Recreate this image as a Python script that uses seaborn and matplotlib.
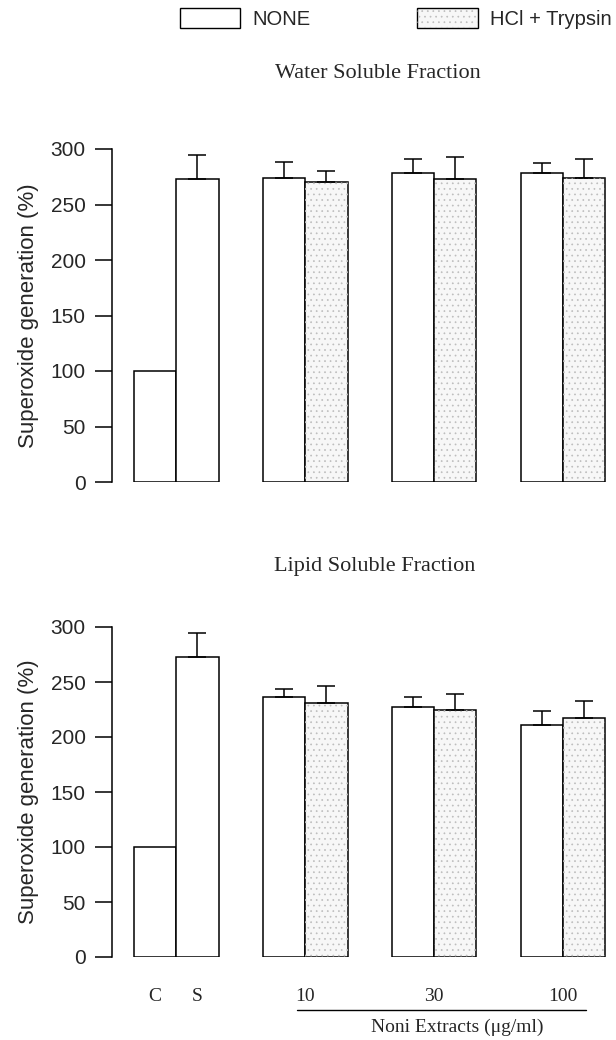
import numpy as np
import pandas as pd
import matplotlib
matplotlib.use("Agg")
import matplotlib.pyplot as plt
import matplotlib.transforms as mtransforms
from matplotlib.patches import Patch, Rectangle
from matplotlib.legend_handler import HandlerTuple
import seaborn as sns

# categories
controls = ["C", "S"]
doses = ["10", "30", "100"]
treatments = ["NONE", "HCl + Trypsin"]

# water soluble fraction (%)
water_ctrl = [100, 273]
water_ctrl_err = [0, 22]
water_none = [274, 278, 278]
water_none_err = [14, 13, 9]
water_hcl = [270, 273, 274]
water_hcl_err = [10, 20, 17]

# lipid soluble fraction (%)
lipid_ctrl = [100, 273]
lipid_ctrl_err = [0, 22]
lipid_none = [236, 227, 211]
lipid_none_err = [8, 9, 13]
lipid_hcl = [231, 225, 217]
lipid_hcl_err = [15, 14, 16]

yticks = [0, 50, 100, 150, 200, 250, 300]

sns.set_style("ticks")
plt.rcParams["font.family"] = ["Liberation Sans", "DejaVu Sans"]
plt.rcParams["hatch.linewidth"] = 0.5

W, H = 616, 1040
fig = plt.figure(figsize=(W / 100, H / 100), dpi=100)

# bar positions (bar width = 1)
step = 3.05
ctrl_pos = [0.0, 1.0]
none_pos = [step * (i + 1) for i in range(len(doses))]
hcl_pos = [p + 1.0 for p in none_pos]

fill = {"NONE": "white", "HCl + Trypsin": "#f7f7f7"}
stipple_col = "#bdbdbd"
stipple = "..."


def build_frame(ctrl, none, hcl):
    rows = []
    for p, v in zip(ctrl_pos, ctrl):
        rows.append({"pos": p, "value": v, "treatment": "NONE"})
    for p, v in zip(none_pos, none):
        rows.append({"pos": p, "value": v, "treatment": "NONE"})
    for p, v in zip(hcl_pos, hcl):
        rows.append({"pos": p, "value": v, "treatment": "HCl + Trypsin"})
    return pd.DataFrame(rows)


def draw_panel(ax, ctrl, ctrl_err, none, none_err, hcl, hcl_err):
    df = build_frame(ctrl, none, hcl)
    sns.barplot(data=df, x="pos", y="value", hue="treatment", hue_order=treatments,
                native_scale=True, width=1.0, palette=fill, edgecolor="black",
                linewidth=1.1, errorbar=None, legend=False, ax=ax, zorder=2)
    # stipple on the treated bars
    for bar in ax.patches:
        if np.isclose(bar.get_x() + bar.get_width() / 2, hcl_pos).any():
            ax.add_patch(Rectangle(bar.get_xy(), bar.get_width(), bar.get_height(),
                                   fill=False, hatch=stipple, edgecolor=stipple_col,
                                   lw=0, zorder=2.5))
    xs = np.array(ctrl_pos + none_pos + hcl_pos)
    ys = np.array(ctrl + none + hcl)
    es = np.array(ctrl_err + none_err + hcl_err)
    keep = es > 0
    ax.errorbar(xs[keep], ys[keep], yerr=[np.zeros(keep.sum()), es[keep]], fmt="none",
                ecolor="black", elinewidth=1.1, capsize=6.5, capthick=1.1, zorder=3)
    ax.set_xlim(-1.02, 10.9)
    ax.set_ylim(0, 300)
    ax.set_yticks(yticks)
    ax.tick_params(axis="y", labelsize=15, length=12, width=1.1, pad=7, color="black")
    ax.set_ylabel("Superoxide generation (%)", fontsize=16, labelpad=8)
    ax.set_xlabel("")
    sns.despine(ax=ax, bottom=True)
    ax.spines["left"].set_linewidth(1.1)
    ax.spines["left"].set_color("black")


ax_top = fig.add_axes([112 / W, 1 - 482 / H, 504 / W, 333 / H])
draw_panel(ax_top, water_ctrl, water_ctrl_err, water_none, water_none_err,
           water_hcl, water_hcl_err)
ax_top.set_xticks([])

ax_bot = fig.add_axes([112 / W, 1 - 957 / H, 504 / W, 330 / H])
draw_panel(ax_bot, lipid_ctrl, lipid_ctrl_err, lipid_none, lipid_none_err,
           lipid_hcl, lipid_hcl_err)
tick_pos = ctrl_pos + [p + 0.5 for p in none_pos]
ax_bot.set_xticks(tick_pos)
ax_bot.set_xticklabels(controls + doses, fontsize=14, family="Liberation Serif")
ax_bot.tick_params(axis="x", length=0, pad=22)

# dose bracket and x label
trans = mtransforms.blended_transform_factory(ax_bot.transData, ax_bot.transAxes)
ax_bot.plot([none_pos[0] + 0.3, hcl_pos[-1] + 0.03], [-0.16, -0.16], color="black",
            lw=1.0, transform=trans, clip_on=False)
ax_bot.text(7.14, -0.212, "Noni Extracts (μg/ml)", transform=trans, ha="center",
            va="center", fontsize=14, family="Liberation Serif")

# panel titles
fig.text(378 / W, 1 - 73 / H, "Water Soluble Fraction", ha="center", va="center",
         fontsize=16, family="Liberation Serif")
fig.text(375 / W, 1 - 567 / H, "Lipid Soluble Fraction", ha="center", va="center",
         fontsize=16, family="Liberation Serif")

# legend
h_none = Patch(facecolor=fill["NONE"], edgecolor="black", lw=1.0)
h_hcl = (Patch(facecolor=fill["HCl + Trypsin"], edgecolor="black", lw=1.0),
         Patch(fill=False, hatch=stipple, edgecolor=stipple_col, lw=0))
fig.legend([h_none, h_hcl], treatments, handler_map={tuple: HandlerTuple(ndivide=1)},
           loc="upper left", bbox_to_anchor=(180 / W, 1 - 8 / H), ncol=2,
           frameon=False, fontsize=14.5, handlelength=3.0, handleheight=1.15,
           handletextpad=0.6, columnspacing=5.3, borderpad=0, borderaxespad=0)

fig.savefig("out.png", dpi=100)
